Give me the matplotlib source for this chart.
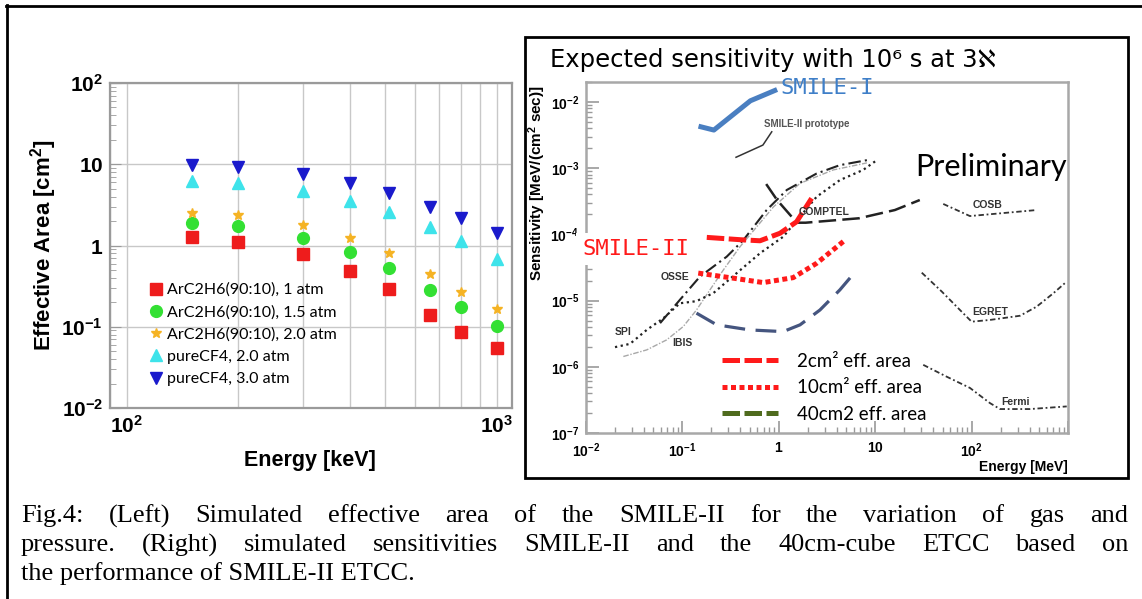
import math
import matplotlib
matplotlib.use('Agg')
import matplotlib.pyplot as plt
from matplotlib.lines import Line2D
from matplotlib.patches import Rectangle
from matplotlib.ticker import LogLocator, FuncFormatter, NullFormatter, FixedLocator

plt.rcParams['mathtext.fontset'] = 'custom'
plt.rcParams['mathtext.rm'] = 'Liberation Sans'
plt.rcParams['mathtext.bf'] = 'Liberation Sans:bold'
plt.rcParams['mathtext.it'] = 'Liberation Sans:italic'

# ---- left panel: simulated effective area (cm^2) vs energy (keV)
energy_kev = [150, 200, 300, 400, 511, 662, 800, 1000]
area_ar_1atm = [1.27, 1.11, 0.78, 0.49, 0.29, 0.14, 0.087, 0.054]
area_ar_15atm = [1.87, 1.75, 1.24, 0.84, 0.53, 0.28, 0.173, 0.101]
area_ar_2atm = [2.53, 2.39, 1.80, 1.24, 0.80, 0.44, 0.27, 0.164]
area_cf4_2atm = [6.3, 5.9, 4.7, 3.5, 2.56, 1.67, 1.13, 0.68]
area_cf4_3atm = [9.8, 9.3, 7.6, 5.85, 4.4, 3.0, 2.18, 1.41]
gas_labels = ['ArC2H6(90:10), 1 atm', 'ArC2H6(90:10), 1.5 atm',
              'ArC2H6(90:10), 2.0 atm', 'pureCF4, 2.0 atm', 'pureCF4, 3.0 atm']

# ---- right panel: sensitivity (MeV/(cm2 s)) vs energy (MeV)
smile1_e = [0.147, 0.212, 0.507, 0.96]
smile1_s = [4.3e-3, 3.76e-3, 1.04e-2, 1.54e-2]
proto_e = [0.36, 0.684, 0.845]
proto_s = [1.46e-3, 2.23e-3, 3.54e-3]
smile2_2cm_e = [0.179, 0.40, 0.638, 1.03, 1.53, 2.19]
smile2_2cm_s = [9.0e-5, 8.3e-5, 8.0e-5, 1.04e-4, 1.55e-4, 3.5e-4]
smile2_10cm_e = [0.146, 0.337, 0.69, 1.41, 2.47, 4.67]
smile2_10cm_s = [2.6e-5, 2.18e-5, 1.87e-5, 2.22e-5, 3.66e-5, 7.8e-5]
etcc40_e = [0.14, 0.227, 0.503, 1.11, 1.66, 2.67, 4.3, 5.7]
etcc40_s = [6.46e-6, 4.3e-6, 3.6e-6, 3.4e-6, 4.3e-6, 7.2e-6, 1.45e-5, 2.35e-5]
comptel_e = [0.74, 0.96, 1.54, 1.9, 6.8, 16, 29]
comptel_s = [5.75e-4, 3.3e-4, 1.5e-4, 1.5e-4, 1.75e-4, 2.33e-4, 3.3e-4]
osse_e = [0.0587, 0.0944, 0.152, 0.288, 0.429, 0.748, 1.21, 2.47, 4.3, 8.2]
osse_s = [4.56e-6, 1.03e-5, 2.3e-5, 4.6e-5, 8.2e-5, 2.33e-4, 4.68e-4, 8.3e-4, 1.11e-3, 1.32e-3]
spi_e = [0.02, 0.0286, 0.0426, 0.0634, 0.094, 0.14, 0.21, 0.366, 0.64, 1.11,
         1.66, 2.47, 4.3, 7.5, 10.4]
spi_s = [1.98e-6, 2.22e-6, 3.6e-6, 5.4e-6, 9.1e-6, 9.8e-6, 1.3e-5, 2.6e-5, 5.2e-5,
         9.2e-5, 1.85e-4, 3.7e-4, 6.6e-4, 9.4e-4, 1.32e-3]
ibis_e = [0.0244, 0.0427, 0.0687, 0.102, 0.14, 0.193, 0.266, 0.396, 0.88, 1.66, 3.67, 8.2]
ibis_s = [1.43e-6, 1.8e-6, 2.55e-6, 4.05e-6, 7.2e-6, 1.45e-5, 2.9e-5, 6.5e-5,
          2.6e-4, 5.9e-4, 9.4e-4, 1.2e-3]
cosb_e = [50.8, 96, 231, 473]
cosb_s = [2.88e-4, 1.89e-4, 2.12e-4, 2.33e-4]
egret_e = [30.4, 49, 75.8, 100, 155, 318, 473, 705, 970]
egret_s = [2.64e-5, 1.37e-5, 7.2e-6, 4.8e-6, 5.1e-6, 5.9e-6, 8.1e-6, 1.29e-5, 1.94e-5]
fermi_e = [31.5, 55, 96, 155, 197, 404, 970]
fermi_s = [1.07e-6, 7.1e-7, 4.8e-7, 2.83e-7, 2.3e-7, 2.3e-7, 2.52e-7]

caption = [
    'Fig.4: (Left) Simulated effective area of the SMILE-II for the variation of gas and',
    'pressure. (Right) simulated sensitivities SMILE-II and the 40cm-cube ETCC based on',
    'the performance of SMILE-II ETCC.',
]

W, H = 1142, 599
fig = plt.figure(figsize=(W / 100, H / 100), dpi=100)


def box(l, t, r, b):
    return [l / W, 1 - b / H, (r - l) / W, (b - t) / H]


def fx(x):
    return x / W


def fy(y):
    return 1 - y / H


def pow_label(v, pos):
    if v == 1:
        return r'$\mathbf{1}$'
    if v == 10:
        return r'$\mathbf{10}$'
    e = int(round(math.log10(v)))
    return r'$\mathbf{10^{%d}}$' % e


# frame lines
fig.add_artist(Line2D([fx(7), fx(7)], [fy(5), 0], color='black', lw=2, transform=fig.transFigure))
fig.add_artist(Line2D([fx(6), 1], [fy(6), fy(6)], color='black', lw=2, transform=fig.transFigure))
fig.add_artist(Rectangle((fx(525), fy(478)), fx(1128 - 525), (478 - 37) / H, fill=False,
                         edgecolor='black', lw=2, transform=fig.transFigure))

# ---------------- left panel
ax1 = fig.add_axes(box(110, 83, 512, 408))
ax1.set_xscale('log')
ax1.set_yscale('log')
ax1.set_xlim(90, 1100)
ax1.set_ylim(0.01, 100)
styles = [('s', '#ee1c1c', 8), ('o', '#33e033', 8.5), ('*', '#f5b324', 7.5),
          ('^', '#3ee3ea', 8.5), ('v', '#1a1acc', 8.5)]
for vals, lab, (m, c, ms) in zip([area_ar_1atm, area_ar_15atm, area_ar_2atm, area_cf4_2atm, area_cf4_3atm],
                                 gas_labels, styles):
    ax1.plot(energy_kev, vals, ls='none', marker=m, color=c, ms=ms, mec=c, label=lab, zorder=3)
ax1.xaxis.set_major_locator(FixedLocator([100, 1000]))
ax1.xaxis.set_minor_locator(LogLocator(base=10, subs=range(2, 10)))
ax1.xaxis.set_minor_formatter(NullFormatter())
ax1.yaxis.set_major_locator(FixedLocator([0.01, 0.1, 1, 10, 100]))
ax1.yaxis.set_minor_locator(LogLocator(base=10, subs=range(2, 10)))
ax1.yaxis.set_minor_formatter(NullFormatter())
ax1.xaxis.set_major_formatter(FuncFormatter(pow_label))
ax1.yaxis.set_major_formatter(FuncFormatter(pow_label))
ax1.grid(True, which='major', color='#c8c8c8', lw=1)
ax1.grid(True, which='minor', axis='x', color='#c8c8c8', lw=1)
for s in ax1.spines.values():
    s.set_color('#9a9a9a')
    s.set_linewidth(1.6)
ax1.tick_params(axis='x', which='both', length=0, labelsize=15, pad=5)
ax1.tick_params(axis='y', which='major', direction='in', length=8, color='#9a9a9a', labelsize=15, pad=5)
ax1.tick_params(axis='y', which='minor', direction='in', length=4, color='#9a9a9a')
ax1.set_ylabel('Effective Area [cm$^\\mathbf{2}$]', fontsize=16, fontweight='bold',
               family='Liberation Sans')
ax1.yaxis.set_label_coords(-0.127, 0.5)
ax1.set_xlabel('Energy [keV]', fontsize=15.5, fontweight='bold', family='Liberation Sans')
ax1.xaxis.set_label_coords(0.4975, -0.13)
ax1.legend(loc='upper left', bbox_to_anchor=(0.09, 0.385), frameon=False, borderpad=0,
           borderaxespad=0, handletextpad=0.1, labelspacing=0.5, handlelength=1.2,
           prop={'family': 'Lato', 'size': 11.5})

# ---------------- right panel
ax2 = fig.add_axes(box(586, 82, 1068, 433))
ax2.set_xscale('log')
ax2.set_yscale('log')
ax2.set_xlim(0.01, 1000)
ax2.set_ylim(1e-7, 2e-2)

ax2.plot(smile1_e, smile1_s, color='#4a7fc1', lw=3.6, solid_capstyle='butt')
ax2.plot(proto_e, proto_s, color='#333333', lw=1.1)
ax2.plot(ibis_e, ibis_s, color='#a8a8a8', lw=1.0, ls=(0, (4, 1.2, 1, 1.2)))
ax2.plot(spi_e, spi_s, color='#222222', lw=1.6, ls=(0, (1, 1.6)))
ax2.plot(osse_e, osse_s, color='#222222', lw=1.5, ls=(0, (6, 2, 1, 2)))
ax2.plot(comptel_e, comptel_s, color='#222222', lw=1.8, ls=(0, (7, 2.5)))
for e, s in [(cosb_e, cosb_s), (egret_e, egret_s), (fermi_e, fermi_s)]:
    ax2.plot(e, s, color='#333333', lw=1.3, ls=(0, (3, 1.5, 1, 1.5)))
ax2.plot(smile2_2cm_e, smile2_2cm_s, color='#ff1a1a', lw=3.6, ls=(0, (3.5, 0.9)))
ax2.plot(smile2_10cm_e, smile2_10cm_s, color='#ff1a1a', lw=3.6, ls=(0, (1, 0.7)))
ax2.plot(etcc40_e, etcc40_s, color='#45557f', lw=2.3, ls=(0, (6.5, 3.3)))

lab = dict(fontsize=7.5, fontweight='bold', color='#333333', family='Liberation Sans')
ax2.text(0.024, 3.4e-6, 'SPI', ha='center', va='center', **lab)
ax2.text(0.101, 2.3e-6, 'IBIS', ha='center', va='center', **lab)
ax2.text(0.118, 2.3e-5, 'OSSE', ha='right', va='center', **lab)
ax2.text(1.6, 2.2e-4, 'COMPTEL', ha='left', va='center', **lab)
ax2.text(146, 2.75e-4, 'COSB', ha='center', va='center', **lab)
ax2.text(155, 6.8e-6, 'EGRET', ha='center', va='center', **lab)
ax2.text(288, 2.9e-7, 'Fermi', ha='center', va='center', **lab)
ax2.text(0.71, 4.7e-3, 'SMILE-II prototype', ha='left', va='center', fontsize=7,
         fontweight='bold', color='#555555', family='Liberation Sans')
ax2.text(1.03, 1.6e-2, 'SMILE-I', ha='left', va='center', fontsize=16, color='#3f7fc8',
         family='DejaVu Sans Mono', clip_on=False)
ax2.text(26, 1.05e-3, 'Preliminary', ha='left', va='center', fontsize=22,
         color='black', family='Lato', clip_on=False)

ax2.xaxis.set_major_locator(LogLocator(base=10, numticks=20))
ax2.xaxis.set_minor_locator(LogLocator(base=10, subs=range(2, 10), numticks=20))
ax2.yaxis.set_major_locator(LogLocator(base=10, numticks=20))
ax2.yaxis.set_minor_locator(LogLocator(base=10, subs=range(2, 10), numticks=20))
ax2.xaxis.set_minor_formatter(NullFormatter())
ax2.yaxis.set_minor_formatter(NullFormatter())
ax2.xaxis.set_major_formatter(FuncFormatter(lambda v, p: '' if v > 500 else pow_label(v, p)))
ax2.yaxis.set_major_formatter(FuncFormatter(pow_label))
for s in ax2.spines.values():
    s.set_color('#a8a8a8')
    s.set_linewidth(1.8)
ax2.tick_params(which='major', direction='in', length=9, width=1.2, color='#9a9a9a',
                labelsize=10, pad=5)
ax2.tick_params(which='minor', direction='in', length=4, width=1, color='#9a9a9a')
ax2.tick_params(axis='x', which='major', pad=6)
ax2.set_ylabel('Sensitivity [MeV/(cm$^\\mathbf{2}$ sec)]', fontsize=11, fontweight='bold',
               family='Liberation Sans')
ax2.yaxis.set_label_coords(-0.079, 0.712)
ax2.text(1.0, -0.098, 'Energy [MeV]', transform=ax2.transAxes, ha='right', va='center',
         fontsize=10, fontweight='bold', family='Liberation Sans')

handles = [Line2D([], [], color='#ff1a1a', lw=3.6, ls=(0, (3.5, 0.9))),
           Line2D([], [], color='#ff1a1a', lw=3.6, ls=(0, (1, 0.7))),
           Line2D([], [], color='#4f6b1e', lw=3.6, ls=(0, (3.5, 0.9)))]
fig.legend(handles, ['2cm² eff. area', '10cm² eff. area', '40cm2 eff. area'],
           loc='upper left', bbox_to_anchor=(fx(722), fy(353)), frameon=False, borderpad=0,
           borderaxespad=0, handlelength=3.0, handletextpad=1.0, labelspacing=0.5,
           prop={'family': 'Lato', 'size': 13.5})

# title and SMILE-II label on the figure
fig.text(fx(550), fy(60), 'Expected sensitivity with 10⁶ s at 3ℵ', ha='left', va='center',
         fontsize=17.5, family=['DejaVu Sans'])
fig.text(fx(582), fy(249), 'SMILE-II', ha='left', va='center', fontsize=16, color='#ff1a1a',
         family='DejaVu Sans Mono', zorder=10,
         bbox=dict(facecolor='white', edgecolor='none', pad=4))

# caption, justified
renderer = fig.canvas.get_renderer()
cap_kw = dict(fontsize=19, family='Liberation Serif', va='center', ha='left')
cap_y = [516, 545, 574]
for i, line in enumerate(caption):
    words = line.split(' ')
    if i == len(caption) - 1:
        fig.text(fx(21), fy(cap_y[i]), line, **cap_kw)
        continue
    texts = [fig.text(0, fy(cap_y[i]), w, **cap_kw) for w in words]
    widths = [t.get_window_extent(renderer).width for t in texts]
    gap = (1128 - 21 - sum(widths)) / (len(words) - 1)
    x = 21
    for t, w in zip(texts, widths):
        t.set_x(fx(x))
        x += w + gap

fig.savefig('out.png', dpi=100)
